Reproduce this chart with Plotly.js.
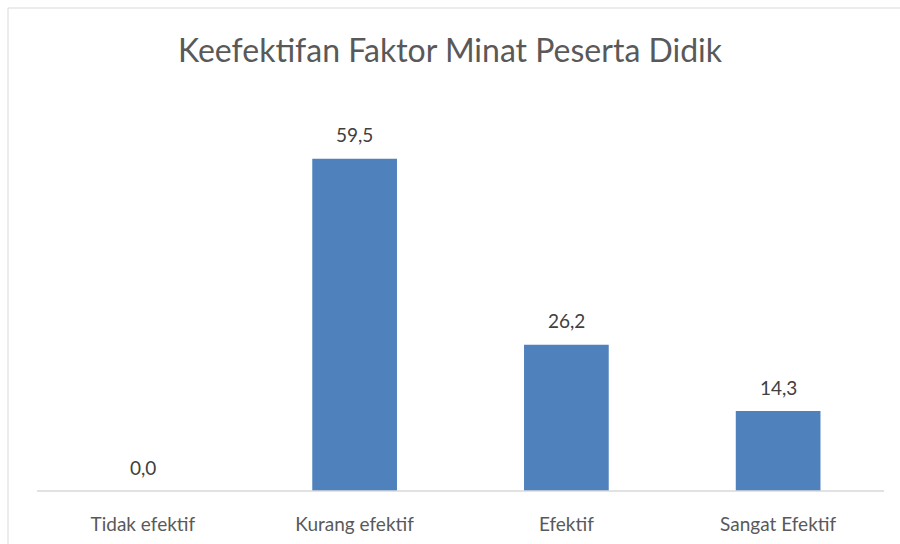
<!DOCTYPE html>
<html>
<head>
<meta charset="utf-8">
<script src="https://cdn.plot.ly/plotly-3.0.1.min.js"></script>
<style>html,body{margin:0;padding:0;background:#fff;}#chart{width:900px;height:544px;}</style>
</head>
<body>
<div id="chart"></div>
<script>
var categories = ["Tidak efektif", "Kurang efektif", "Efektif", "Sangat Efektif"];
var values = [0.0, 59.5, 26.2, 14.3];
var labels = ["0,0", "59,5", "26,2", "14,3"];
var chartTitle = "Keefektifan Faktor Minat Peserta Didik";

var W = 900, H = 544, L = 37, R = 16, T = 100, B = 53;
var pw = W - L - R, ph = H - T - B;
function px(x){ return (x - L) / pw; }
function py(y){ return (H - B - y) / ph; }
var FONT = "Lato, 'Open Sans', sans-serif";

var trace = {
  type: "bar",
  x: categories,
  y: values,
  width: 0.4,
  marker: {color: "#4f81bd", line: {color: "#4f81bd", width: 0}},
  hoverinfo: "none"
};

var annotations = categories.map(function(c, i){
  return {x: c, y: values[i], xref: "x", yref: "y", text: labels[i], showarrow: false,
          yanchor: "middle", xanchor: "center", yshift: 24,
          font: {family: FONT, size: 19, color: "#404040"}};
});

var layout = {
  width: W, height: H,
  margin: {l: L, r: R, t: T, b: B, pad: 0},
  paper_bgcolor: "#fff", plot_bgcolor: "#fff",
  showlegend: false,
  font: {family: FONT, color: "#595959"},
  title: {text: chartTitle, font: {family: FONT, size: 32, color: "#595959"},
          x: 0.5, xanchor: "center", y: 1 - 51/H, yanchor: "middle"},
  xaxis: {showgrid: false, zeroline: false, showline: false, ticks: "",
          ticklabelstandoff: 20,
          tickfont: {family: FONT, size: 19, color: "#595959"}, fixedrange: true},
  yaxis: {range: [0, 70], visible: false, showgrid: false, zeroline: false, fixedrange: true},
  annotations: annotations,
  shapes: [
    {type: "line", xref: "paper", yref: "paper", x0: 0, x1: 1, y0: 0, y1: 0,
     line: {color: "#d9d9d9", width: 1.5}},
    {type: "line", xref: "paper", yref: "paper", x0: px(8), x1: px(900), y0: py(8), y1: py(8),
     line: {color: "#d9d9d9", width: 1}},
    {type: "line", xref: "paper", yref: "paper", x0: px(8), x1: px(8), y0: py(8), y1: py(544),
     line: {color: "#d9d9d9", width: 1}}
  ]
};

Plotly.newPlot("chart", [trace], layout, {displayModeBar: false, staticPlot: true});
</script>
</body>
</html>
